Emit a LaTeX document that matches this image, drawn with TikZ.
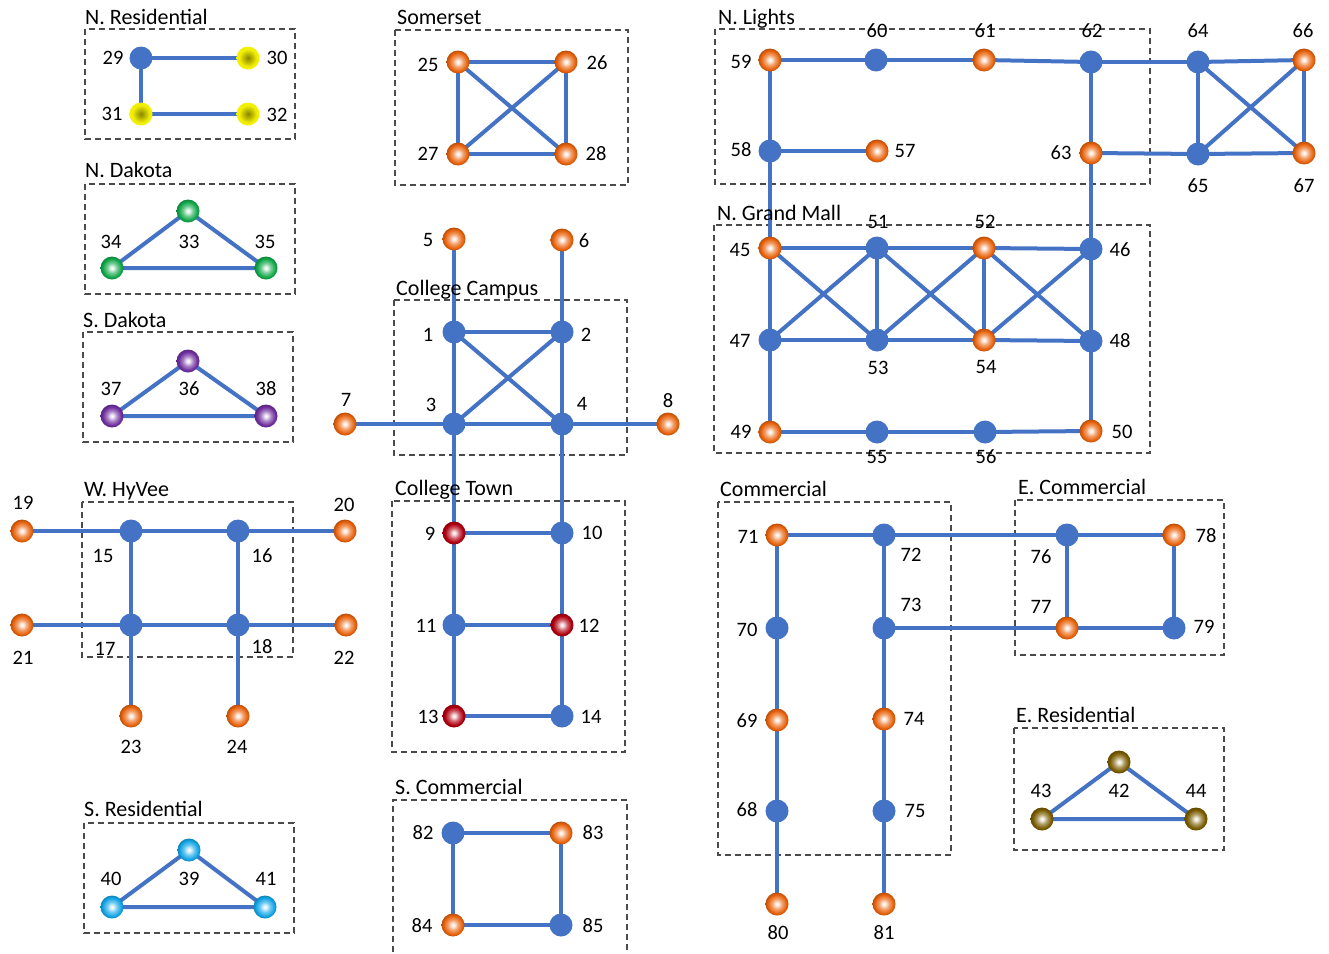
\documentclass[tikz,border=0pt]{standalone}
\usepackage{fontspec}
\setmainfont{Carlito}
\definecolor{edgeblue}{HTML}{4472C4}
\definecolor{boxgray}{HTML}{4A4A4A}
\definecolor{ballorange}{HTML}{E8630C}
\definecolor{ballred}{HTML}{B00010}
\definecolor{ballgreen}{HTML}{12A84A}
\definecolor{ballpurple}{HTML}{7030A0}
\definecolor{ballcyan}{HTML}{12A6E6}
\definecolor{ballbrown}{HTML}{7A5C00}
\definecolor{ballyellow}{HTML}{F2F000}
\definecolor{ballolive}{HTML}{8A8600}
% radial ball shadings: light centre, coloured body, darker rim
\newcommand\declareballshade[2]{%
  \colorlet{#1hi}{white!85!#2}%
  \colorlet{#1mid}{white!40!#2}%
  \colorlet{#1rim}{#2!80!black}%
  \pgfdeclareradialshading{#1}{\pgfpointorigin}{%
    color(0bp)=(white); color(4bp)=(#1hi); color(11bp)=(#1mid);
    color(20bp)=(#2); color(25bp)=(#1rim); color(50bp)=(#1rim)}}
\declareballshade{orangeshade}{ballorange}
\declareballshade{redshade}{ballred}
\declareballshade{greenshade}{ballgreen}
\declareballshade{purpleshade}{ballpurple}
\declareballshade{cyanshade}{ballcyan}
\declareballshade{brownshade}{ballbrown}
\colorlet{yelmid}{ballolive!55!ballyellow}
\pgfdeclareradialshading{yellowshade}{\pgfpointorigin}{%
  color(0bp)=(ballolive); color(9bp)=(yelmid); color(19bp)=(ballyellow);
  color(25bp)=(ballyellow); color(50bp)=(ballyellow)}
\pgfdeclarelayer{boxes}
\pgfdeclarelayer{links}
\pgfsetlayers{boxes,links,main}
\tikzset{
  edge/.style={draw=edgeblue, line width=4pt},
  area/.style={draw=boxgray, dash pattern=on 6pt off 4pt, line width=1.2pt},
  vtx/.style={circle, inner sep=0pt, minimum size=23pt, draw=none},
  plain/.style={vtx, fill=edgeblue},
  orangeball/.style={vtx, shading=orangeshade, shade},
  redball/.style={vtx, shading=redshade, shade},
  greenball/.style={vtx, shading=greenshade, shade},
  purpleball/.style={vtx, shading=purpleshade, shade},
  cyanball/.style={vtx, shading=cyanshade, shade},
  brownball/.style={vtx, shading=brownshade, shade},
  yellowball/.style={vtx, shading=yellowshade, shade},
  num/.style={font=\fontsize{20.5}{24}\selectfont, inner sep=0pt},
  title/.style={font=\fontsize{22}{26}\selectfont, anchor=base west, inner sep=0pt},
}
\begin{document}
\begin{tikzpicture}[x=1pt, y=-1pt]
\useasboundingbox (0,0) rectangle (1329,953);

% ---------- dashed district boxes ----------
\begin{pgfonlayer}{boxes}
\draw[area] (85,29) rectangle (295,139);
\draw[area] (395,30) rectangle (628,185);
\draw[area] (85,184) rectangle (295,294);
\draw[area] (83,332) rectangle (293,442);
\draw[area] (394,300) rectangle (627,455);
\draw[area] (392,501) rectangle (625,752);
\draw[area] (82,502) rectangle (293,657);
\draw[area] (84,823) rectangle (294,933);
\draw[area] (393,962) -- (393,800) -- (627,800) -- (627,962);
\draw[area] (715,29) rectangle (1150,184);
\draw[area] (714,225) rectangle (1150,453);
\draw[area] (718,502) rectangle (951,855);
\draw[area] (1015,500) rectangle (1224,655);
\draw[area] (1014,728) rectangle (1224,850);
\end{pgfonlayer}

% ---------- district titles ----------
\node[title] (tNRes) at (85,24) {N. Residential};
\node[title] (tSom) at (397,24) {Somerset};
\node[title] (tNDak) at (85,177) {N. Dakota};
\node[title] (tSDak) at (83,327) {S. Dakota};
\node[title] (tCamp) at (396,295) {College Campus};
\node[title] (tHy) at (84,496) {W. HyVee};
\node[title] (tTown) at (395,495) {College Town};
\node[title] (tSRes) at (84,816) {S. Residential};
\node[title] (tSCom) at (395,794) {S. Commercial};
\node[title] (tLights) at (718,24) {N. Lights};
\node[title] (tMall) at (717,220) {N. Grand Mall};
\node[title] (tCom) at (720,496) {Commercial};
\node[title] (tECom) at (1018,494) {E. Commercial};
\node[title] (tERes) at (1016,722) {E. Residential};

% ---------- vertices ----------
% College Campus / College Town
\node[plain] (n1) at (454,332) {};
\node[plain] (n2) at (562,332) {};
\node[plain] (n3) at (454,424) {};
\node[plain] (n4) at (562,424) {};
\node[orangeball] (n5) at (454,239) {};
\node[orangeball] (n6) at (562,240) {};
\node[orangeball] (n7) at (345,424) {};
\node[orangeball] (n8) at (668,424) {};
\node[redball] (n9) at (454,533) {};
\node[plain] (n10) at (562,533) {};
\node[plain] (n11) at (454,625) {};
\node[redball] (n12) at (562,625) {};
\node[redball] (n13) at (454,716) {};
\node[plain] (n14) at (562,716) {};
% W. HyVee
\node[plain] (n15) at (131,531) {};
\node[plain] (n16) at (238,531) {};
\node[plain] (n17) at (131,625) {};
\node[plain] (n18) at (238,625) {};
\node[orangeball] (n19) at (22,531) {};
\node[orangeball] (n20) at (345,531) {};
\node[orangeball] (n21) at (22,625) {};
\node[orangeball] (n22) at (346,625) {};
\node[orangeball] (n23) at (131,716) {};
\node[orangeball] (n24) at (238,716) {};
% Somerset
\node[orangeball] (n25) at (458,62) {};
\node[orangeball] (n26) at (566,62) {};
\node[orangeball] (n27) at (458,154) {};
\node[orangeball] (n28) at (566,154) {};
% N. Residential
\node[plain] (n29) at (141,58) {};
\node[yellowball] (n30) at (248,58) {};
\node[yellowball] (n31) at (141,114) {};
\node[yellowball] (n32) at (248,114) {};
% Dakotas, residential triangles
\node[greenball] (n33) at (188,211) {};
\node[greenball] (n34) at (112,268) {};
\node[greenball] (n35) at (266,268) {};
\node[purpleball] (n36) at (188,361) {};
\node[purpleball] (n37) at (112,416) {};
\node[purpleball] (n38) at (266,416) {};
\node[cyanball] (n39) at (189,850) {};
\node[cyanball] (n40) at (112,907) {};
\node[cyanball] (n41) at (265,907) {};
\node[brownball] (n42) at (1119,762) {};
\node[brownball] (n43) at (1042,819) {};
\node[brownball] (n44) at (1196,819) {};
% N. Grand Mall
\node[orangeball] (n45) at (770,248) {};
\node[plain] (n46) at (1091,249) {};
\node[plain] (n47) at (770,340) {};
\node[plain] (n48) at (1091,341) {};
\node[orangeball] (n49) at (770,432) {};
\node[orangeball] (n50) at (1091,431) {};
\node[plain] (n51) at (877,248) {};
\node[orangeball] (n52) at (984,248) {};
\node[plain] (n53) at (877,340) {};
\node[orangeball] (n54) at (984,340) {};
\node[plain] (n55) at (877,432) {};
\node[plain] (n56) at (985,432) {};
% N. Lights
\node[orangeball] (n57) at (877,151) {};
\node[plain] (n58) at (770,151) {};
\node[orangeball] (n59) at (770,60) {};
\node[plain] (n60) at (876,60) {};
\node[orangeball] (n61) at (984,60) {};
\node[plain] (n62) at (1091,62) {};
\node[orangeball] (n63) at (1091,153) {};
\node[plain] (n64) at (1198,62) {};
\node[plain] (n65) at (1198,154) {};
\node[orangeball] (n66) at (1304,60) {};
\node[orangeball] (n67) at (1304,153) {};
% Commercial / E. Commercial
\node[plain] (n68) at (777,811) {};
\node[orangeball] (n69) at (777,720) {};
\node[plain] (n70) at (777,628) {};
\node[orangeball] (n71) at (777,535) {};
\node[plain] (n72) at (884,535) {};
\node[plain] (n73) at (884,628) {};
\node[orangeball] (n74) at (884,719) {};
\node[plain] (n75) at (884,811) {};
\node[plain] (n76) at (1067,535) {};
\node[orangeball] (n77) at (1067,628) {};
\node[orangeball] (n78) at (1174,535) {};
\node[plain] (n79) at (1174,628) {};
\node[orangeball] (n80) at (777,904) {};
\node[orangeball] (n81) at (884,904) {};
% S. Commercial
\node[plain] (n82) at (453,833) {};
\node[orangeball] (n83) at (561,833) {};
\node[orangeball] (n84) at (453,925) {};
\node[plain] (n85) at (561,925) {};

% ---------- connectors, under the vertices ----------
\begin{pgfonlayer}{links}
% College Campus
\draw[edge] (n5.center) -- (n1.center);
\draw[edge] (n6.center) -- (n2.center);
\draw[edge] (n1.center) -- (n2.center);
\draw[edge] (n1.center) -- (n3.center);
\draw[edge] (n2.center) -- (n4.center);
\draw[edge] (n3.center) -- (n4.center);
\draw[edge] (n1.center) -- (n4.center);
\draw[edge] (n2.center) -- (n3.center);
\draw[edge] (n7.center) -- (n3.center);
\draw[edge] (n4.center) -- (n8.center);
\draw[edge] (n3.center) -- (n9.center);
\draw[edge] (n4.center) -- (n10.center);
% College Town
\draw[edge] (n9.center) -- (n10.center);
\draw[edge] (n9.center) -- (n11.center);
\draw[edge] (n10.center) -- (n12.center);
\draw[edge] (n11.center) -- (n12.center);
\draw[edge] (n11.center) -- (n13.center);
\draw[edge] (n12.center) -- (n14.center);
\draw[edge] (n13.center) -- (n14.center);
% W. HyVee
\draw[edge] (n19.center) -- (n15.center);
\draw[edge] (n15.center) -- (n16.center);
\draw[edge] (n16.center) -- (n20.center);
\draw[edge] (n15.center) -- (n17.center);
\draw[edge] (n16.center) -- (n18.center);
\draw[edge] (n21.center) -- (n17.center);
\draw[edge] (n17.center) -- (n18.center);
\draw[edge] (n18.center) -- (n22.center);
\draw[edge] (n17.center) -- (n23.center);
\draw[edge] (n18.center) -- (n24.center);
% Somerset
\draw[edge] (n25.center) -- (n26.center);
\draw[edge] (n25.center) -- (n27.center);
\draw[edge] (n26.center) -- (n28.center);
\draw[edge] (n27.center) -- (n28.center);
\draw[edge] (n25.center) -- (n28.center);
\draw[edge] (n26.center) -- (n27.center);
% N. Residential
\draw[edge] (n29.center) -- (n30.center);
\draw[edge] (n29.center) -- (n31.center);
\draw[edge] (n31.center) -- (n32.center);
% triangles
\draw[edge] (n33.center) -- (n34.center) -- (n35.center) -- cycle;
\draw[edge] (n36.center) -- (n37.center) -- (n38.center) -- cycle;
\draw[edge] (n39.center) -- (n40.center) -- (n41.center) -- cycle;
\draw[edge] (n42.center) -- (n43.center) -- (n44.center) -- cycle;
% N. Lights
\draw[edge] (n59.center) -- (n60.center);
\draw[edge] (n60.center) -- (n61.center);
\draw[edge] (n61.center) -- (n62.center);
\draw[edge] (n62.center) -- (n64.center);
\draw[edge] (n64.center) -- (n66.center);
\draw[edge] (n59.center) -- (n58.center);
\draw[edge] (n58.center) -- (n57.center);
\draw[edge] (n62.center) -- (n63.center);
\draw[edge] (n63.center) -- (n65.center);
\draw[edge] (n64.center) -- (n65.center);
\draw[edge] (n65.center) -- (n67.center);
\draw[edge] (n66.center) -- (n67.center);
\draw[edge] (n64.center) -- (n67.center);
\draw[edge] (n66.center) -- (n65.center);
\draw[edge] (n58.center) -- (n45.center);
\draw[edge] (n63.center) -- (n46.center);
% N. Grand Mall
\draw[edge] (n45.center) -- (n51.center);
\draw[edge] (n51.center) -- (n52.center);
\draw[edge] (n52.center) -- (n46.center);
\draw[edge] (n47.center) -- (n53.center);
\draw[edge] (n53.center) -- (n54.center);
\draw[edge] (n54.center) -- (n48.center);
\draw[edge] (n45.center) -- (n47.center);
\draw[edge] (n51.center) -- (n53.center);
\draw[edge] (n52.center) -- (n54.center);
\draw[edge] (n46.center) -- (n48.center);
\draw[edge] (n45.center) -- (n53.center);
\draw[edge] (n51.center) -- (n47.center);
\draw[edge] (n51.center) -- (n54.center);
\draw[edge] (n52.center) -- (n53.center);
\draw[edge] (n52.center) -- (n48.center);
\draw[edge] (n46.center) -- (n54.center);
\draw[edge] (n47.center) -- (n49.center);
\draw[edge] (n48.center) -- (n50.center);
\draw[edge] (n49.center) -- (n55.center);
\draw[edge] (n55.center) -- (n56.center);
\draw[edge] (n56.center) -- (n50.center);
% Commercial / E. Commercial
\draw[edge] (n71.center) -- (n72.center);
\draw[edge] (n72.center) -- (n76.center);
\draw[edge] (n71.center) -- (n70.center);
\draw[edge] (n70.center) -- (n69.center);
\draw[edge] (n69.center) -- (n68.center);
\draw[edge] (n68.center) -- (n80.center);
\draw[edge] (n72.center) -- (n73.center);
\draw[edge] (n73.center) -- (n74.center);
\draw[edge] (n74.center) -- (n75.center);
\draw[edge] (n75.center) -- (n81.center);
\draw[edge] (n73.center) -- (n77.center);
\draw[edge] (n76.center) -- (n78.center);
\draw[edge] (n76.center) -- (n77.center);
\draw[edge] (n78.center) -- (n79.center);
\draw[edge] (n77.center) -- (n79.center);
% S. Commercial
\draw[edge] (n82.center) -- (n83.center);
\draw[edge] (n82.center) -- (n84.center);
\draw[edge] (n83.center) -- (n85.center);
\draw[edge] (n84.center) -- (n85.center);
\end{pgfonlayer}

% ---------- vertex labels ----------
\node[num] (l1) at (428,335) {1};
\node[num] (l2) at (586,335) {2};
\node[num] (l3) at (431,405) {3};
\node[num] (l4) at (582,404) {4};
\node[num] (l5) at (428,240) {5};
\node[num] (l6) at (584,241) {6};
\node[num] (l7) at (346,400) {7};
\node[num] (l8) at (668,401) {8};
\node[num] (l9) at (430,534) {9};
\node[num] (l10) at (592,533) {10};
\node[num] (l11) at (426,626) {11};
\node[num] (l12) at (589,626) {12};
\node[num] (l13) at (428,717) {13};
\node[num] (l14) at (591,717) {14};
\node[num] (l15) at (103,556) {15};
\node[num] (l16) at (262,556) {16};
\node[num] (l17) at (105,649) {17};
\node[num] (l18) at (262,647) {18};
\node[num] (l19) at (23,503) {19};
\node[num] (l20) at (344,505) {20};
\node[num] (l21) at (23,658) {21};
\node[num] (l22) at (344,658) {22};
\node[num] (l23) at (131,747) {23};
\node[num] (l24) at (237,747) {24};
\node[num] (l25) at (428,65) {25};
\node[num] (l26) at (597,63) {26};
\node[num] (l27) at (428,154) {27};
\node[num] (l28) at (596,154) {28};
\node[num] (l29) at (113,58) {29};
\node[num] (l30) at (277,58) {30};
\node[num] (l31) at (112,114) {31};
\node[num] (l32) at (277,115) {32};
\node[num] (l33) at (189,242) {33};
\node[num] (l34) at (111,242) {34};
\node[num] (l35) at (265,242) {35};
\node[num] (l36) at (189,389) {36};
\node[num] (l37) at (111,389) {37};
\node[num] (l38) at (266,389) {38};
\node[num] (l39) at (189,879) {39};
\node[num] (l40) at (111,879) {40};
\node[num] (l41) at (266,879) {41};
\node[num] (l42) at (1119,791) {42};
\node[num] (l43) at (1041,791) {43};
\node[num] (l44) at (1196,791) {44};
\node[num] (l45) at (740,250) {45};
\node[num] (l46) at (1120,250) {46};
\node[num] (l47) at (740,341) {47};
\node[num] (l48) at (1120,341) {48};
\node[num] (l49) at (741,432) {49};
\node[num] (l50) at (1122,432) {50};
\node[num] (l51) at (878,222) {51};
\node[num] (l52) at (985,222) {52};
\node[num] (l53) at (878,368) {53};
\node[num] (l54) at (986,367) {54};
\node[num] (l55) at (877,457) {55};
\node[num] (l56) at (986,457) {56};
\node[num] (l57) at (905,151) {57};
\node[num] (l58) at (741,150) {58};
\node[num] (l59) at (741,62) {59};
\node[num] (l60) at (877,31) {60};
\node[num] (l61) at (985,31) {61};
\node[num] (l62) at (1092,31) {62};
\node[num] (l63) at (1061,153) {63};
\node[num] (l64) at (1198,31) {64};
\node[num] (l65) at (1198,186) {65};
\node[num] (l66) at (1303,31) {66};
\node[num] (l67) at (1304,186) {67};
\node[num] (l68) at (747,810) {68};
\node[num] (l69) at (747,721) {69};
\node[num] (l70) at (747,630) {70};
\node[num] (l71) at (748,537) {71};
\node[num] (l72) at (911,555) {72};
\node[num] (l73) at (911,605) {73};
\node[num] (l74) at (914,719) {74};
\node[num] (l75) at (915,811) {75};
\node[num] (l76) at (1041,557) {76};
\node[num] (l77) at (1041,607) {77};
\node[num] (l78) at (1206,536) {78};
\node[num] (l79) at (1204,627) {79};
\node[num] (l80) at (778,933) {80};
\node[num] (l81) at (884,933) {81};
\node[num] (l82) at (423,833) {82};
\node[num] (l83) at (593,833) {83};
\node[num] (l84) at (422,926) {84};
\node[num] (l85) at (593,926) {85};
\end{tikzpicture}
\end{document}
